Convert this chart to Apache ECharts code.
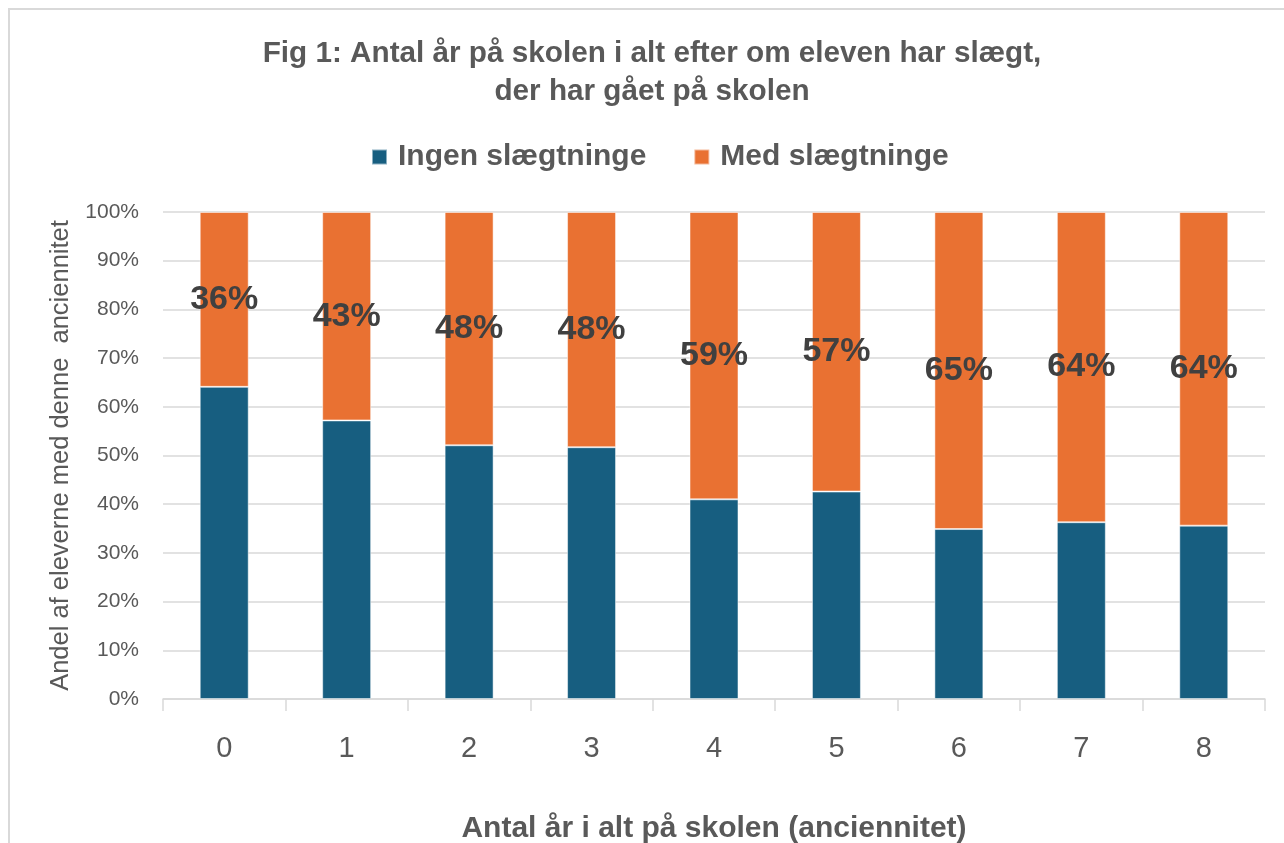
<!DOCTYPE html>
<html>
<head>
<meta charset="utf-8">
<script src="https://cdn.jsdelivr.net/npm/echarts@6/dist/echarts.min.js"></script>
<style>
html,body{margin:0;padding:0;background:#fff;overflow:hidden;}
#chart{width:1284px;height:843px;}
</style>
</head>
<body>
<div id="chart"></div>
<script>
const categories = ['0','1','2','3','4','5','6','7','8'];
const ingenValues = [64.1, 57.2, 52.1, 51.7, 41.0, 42.6, 34.9, 36.3, 35.6];
const medValues = [35.9, 42.8, 47.9, 48.3, 59.0, 57.4, 65.1, 63.7, 64.4];
const seriesNames = ['Ingen slægtninge', 'Med slægtninge'];
const yTicks = [0,10,20,30,40,50,60,70,80,90,100];

const chart = echarts.init(document.getElementById('chart'), null, {renderer:'canvas'});
const sans = '"Liberation Sans", Arial, sans-serif';
chart.setOption({
  animation:false,
  backgroundColor:'#fff',
  graphic:[{
    type:'rect', silent:true, z:-10,
    shape:{x:9, y:9, width:1400, height:1000},
    style:{fill:'none', stroke:'#d9d9d9', lineWidth:2}
  }],
  title:{
    text:'Fig 1: Antal år på skolen i alt efter om eleven har slægt,\nder har gået på skolen',
    left:647, top:30, textAlign:'center',
    textStyle:{fontFamily:sans, fontWeight:'bold', fontSize:29.7, color:'#595959', lineHeight:38}
  },
  legend:{
    top:137, left:366,
    itemWidth:15, itemHeight:15, itemGap:47,
    icon:'rect',
    textStyle:{fontFamily:sans, fontWeight:'bold', fontSize:30, color:'#595959', padding:[0,0,0,6]},
    data:seriesNames
  },
  grid:{left:163, right:19, top:212, bottom:144, containLabel:false, outerBoundsMode:'none'},
  xAxis:{
    type:'category', data:categories,
    name:'Antal år i alt på skolen (anciennitet)',
    nameLocation:'middle', nameGap:115,
    nameTextStyle:{fontFamily:sans, fontWeight:'bold', fontSize:30, color:'#595959'},
    axisLine:{lineStyle:{color:'#d9d9d9', width:1.5}},
    axisTick:{show:true, length:12, lineStyle:{color:'#d9d9d9', width:1.5}},
    axisLabel:{fontFamily:sans, fontSize:29, color:'#595959', margin:35}
  },
  yAxis:{
    type:'value', min:yTicks[0], max:yTicks[yTicks.length-1], interval:10,
    name:'Andel af eleverne med denne  anciennitet',
    nameLocation:'middle', nameGap:89,
    nameTextStyle:{fontFamily:sans, fontSize:25.5, color:'#595959'},
    axisLine:{show:false}, axisTick:{show:false},
    axisLabel:{fontFamily:sans, fontSize:21, color:'#595959', margin:24, formatter:'{value}%'},
    splitLine:{lineStyle:{color:'#d9d9d9', width:1.5}}
  },
  series:[
    {
      name:seriesNames[0], type:'bar', stack:'total', data:ingenValues, barWidth:'40%',
      itemStyle:{color:'#175E80', borderColor:'rgba(255,255,255,0.5)', borderWidth:1}
    },
    {
      name:seriesNames[1], type:'bar', stack:'total', data:medValues, barWidth:'40%',
      itemStyle:{color:'#E97132', borderColor:'rgba(255,255,255,0.5)', borderWidth:1},
      label:{show:true, position:'inside', fontFamily:sans, fontWeight:'bold', fontSize:34, color:'#404040',
        formatter:p => Math.round(p.value)+'%'}
    }
  ]
});
</script>
</body>
</html>
